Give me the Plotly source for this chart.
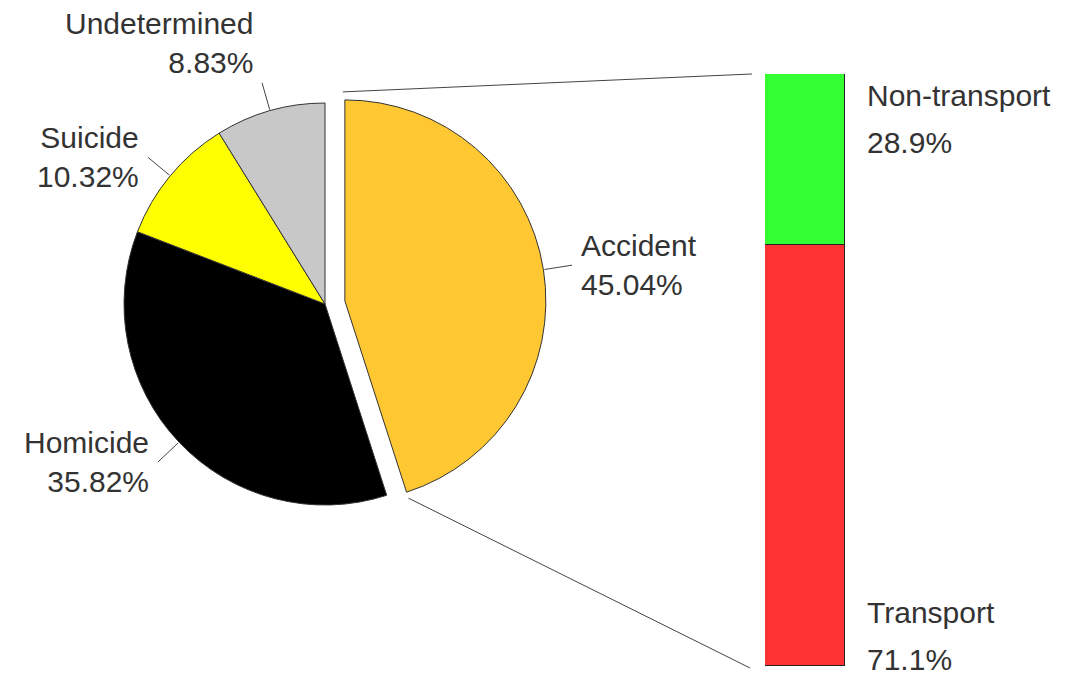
import numpy as np
import plotly.graph_objects as go

# ---------------- data ----------------
causes = ["Accident", "Homicide", "Suicide", "Undetermined"]
cause_pct = [45.04, 35.82, 10.32, 8.83]
cause_colors = ["#FFC832", "#000000", "#FFFF00", "#C8C8C8"]
cause_pull = [0.1, 0, 0, 0]

accident_types = ["Transport", "Non-transport"]
accident_pct = [71.1, 28.9]
accident_colors = ["#FF3333", "#33FF33"]

# ---------------- layout constants ----------------
W, H = 1073, 678
FONT = "Arial, Liberation Sans, sans-serif"
FS = 30
TXT = "#333333"
pie_dom_x = [0.0968, 0.5090]
pie_dom_y = [0.2255, 0.8777]
bar_dom_x = [0.7130, 0.7875]
bar_dom_y = [0.0177, 0.8909]

# pie geometry following plotly's own sizing rule
rx = W * (pie_dom_x[1] - pie_dom_x[0]) / 2
ry = H * (pie_dom_y[1] - pie_dom_y[0]) / 2
R = min(rx, ry) / (1 + max(cause_pull))
cx = W * (pie_dom_x[0] + pie_dom_x[1]) / 2
cy = H * (1 - (pie_dom_y[0] + pie_dom_y[1]) / 2)  # pixels from top

vals = np.array(cause_pct, dtype=float)
frac = vals / vals.sum()
start = np.concatenate([[0], np.cumsum(frac)[:-1]]) * 2 * np.pi
end = np.cumsum(frac) * 2 * np.pi
mid = (start + end) / 2


def px2paper(x, y):
    return x / W, 1 - y / H


fig = go.Figure()
fig.add_trace(go.Pie(
    labels=causes, values=cause_pct, sort=False, direction="clockwise", rotation=0,
    pull=cause_pull, marker=dict(colors=cause_colors, line=dict(color="#333333", width=1)),
    textinfo="none", hoverinfo="label+percent", showlegend=False,
    domain=dict(x=pie_dom_x, y=pie_dom_y),
))

for name, val, col in zip(accident_types, accident_pct, accident_colors):
    fig.add_trace(go.Bar(
        x=[0], y=[val], name=name, width=1,
        marker=dict(color=col, line=dict(color="#222222", width=1.2)),
        showlegend=False, xaxis="x", yaxis="y",
    ))

shapes = []
annotations = []

# leader lines and labels for pie slices
for i, name in enumerate(causes):
    a = mid[i]
    pcx = cx + cause_pull[i] * R * np.sin(a)
    pcy = cy - cause_pull[i] * R * np.cos(a)
    x0, y0 = pcx + (R + 1) * np.sin(a), pcy - (R + 1) * np.cos(a)
    x1, y1 = pcx + (R + 29) * np.sin(a), pcy - (R + 29) * np.cos(a)
    p0 = px2paper(x0, y0)
    p1 = px2paper(x1, y1)
    shapes.append(dict(type="line", xref="paper", yref="paper", x0=p0[0], y0=p0[1],
                       x1=p1[0], y1=p1[1], line=dict(color="#444444", width=1)))
    right = np.sin(a) > 0
    near_top = np.cos(a) > 0.9
    annotations.append(dict(
        xref="paper", yref="paper", x=p1[0], y=p1[1], showarrow=False,
        text=f"{name}<br>{cause_pct[i]:.2f}%",
        xanchor="left" if right else "right",
        yanchor="bottom" if near_top else "middle",
        align="left" if right else "right",
        xshift=7 if right else -7, yshift=2 if near_top else 0,
        font=dict(family=FONT, size=FS, color=TXT),
    ))

# connecting lines from pulled slice to bar
a_acc = mid[0]
acx = cx + cause_pull[0] * R * np.sin(a_acc)
acy = cy - cause_pull[0] * R * np.cos(a_acc)
top_corner = (acx, acy - R)
tip = (acx + R * np.sin(end[0]), acy - R * np.cos(end[0]))
bar_left = bar_dom_x[0] * W
bar_top = (1 - bar_dom_y[1]) * H
bar_bot = (1 - bar_dom_y[0]) * H
for (sx, sy), (ex, ey) in [((top_corner[0] - 2, top_corner[1] - 8), (bar_left - 13, bar_top)),
                           ((tip[0] + 2, tip[1] + 6), (bar_left - 15, bar_bot + 2))]:
    s = px2paper(sx, sy)
    e = px2paper(ex, ey)
    shapes.append(dict(type="line", xref="paper", yref="paper", x0=s[0], y0=s[1],
                       x1=e[0], y1=e[1], line=dict(color="#444444", width=1)))

# bar labels
lab_font = dict(family=FONT, size=FS, color=TXT)
annotations += [
    dict(xref="x", yref="y", x=0.5, y=100, text=accident_types[1], showarrow=False,
         xanchor="left", yanchor="middle", xshift=20, yshift=-22, font=lab_font),
    dict(xref="x", yref="y", x=0.5, y=100, text=f"{accident_pct[1]}%", showarrow=False,
         xanchor="left", yanchor="middle", xshift=20, yshift=-69, font=lab_font),
    dict(xref="x", yref="y", x=0.5, y=0, text=accident_types[0], showarrow=False,
         xanchor="left", yanchor="bottom", xshift=20, yshift=35, font=lab_font),
    dict(xref="x", yref="y", x=0.5, y=0, text=f"{accident_pct[0]}%", showarrow=False,
         xanchor="left", yanchor="bottom", xshift=20, yshift=-12, font=lab_font),
]

fig.update_layout(
    width=W, height=H, margin=dict(l=0, r=0, t=0, b=0),
    paper_bgcolor="white", plot_bgcolor="white",
    barmode="stack", bargap=0,
    xaxis=dict(domain=bar_dom_x, range=[-0.5, 0.5], visible=False, fixedrange=True),
    yaxis=dict(domain=bar_dom_y, range=[0, 100], visible=False, fixedrange=True),
    shapes=shapes, annotations=annotations,
    font=dict(family=FONT, color=TXT),
)

fig.write_html("out.html")
